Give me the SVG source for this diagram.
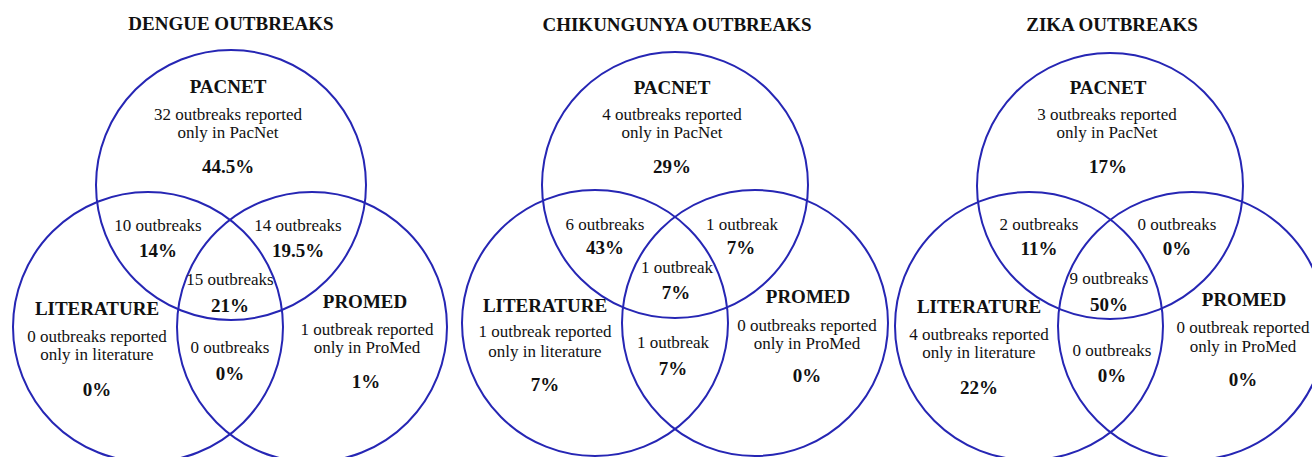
<svg xmlns="http://www.w3.org/2000/svg" width="1312" height="457" viewBox="0 0 1312 457">
<style>
text{font-family:"Liberation Serif","Times New Roman",serif;fill:#111;text-anchor:middle}
.t{font-size:19px;font-weight:bold}
.h{font-size:19px;font-weight:bold}
.n{font-size:17px}
.p{font-size:19px;font-weight:bold}
circle{fill:none;stroke:#2626b4;stroke-width:2}
</style>
<rect width="1312" height="457" fill="#fff"/>
<g id="dengue">
<text class="t" x="231" y="30">DENGUE OUTBREAKS</text>
<g id="dengue-circles">
<circle cx="231" cy="185" r="135"/>
<circle cx="148" cy="327" r="135"/>
<circle cx="312" cy="327" r="135"/>
</g>
<g id="dengue-pacnet"><text class="h" x="228" y="93">PACNET</text><text class="n" x="228" y="120">32 outbreaks reported</text><text class="n" x="228" y="138">only in PacNet</text><text class="p" x="228" y="173">44.5%</text></g>
<g id="dengue-pl"><text class="n" x="158" y="231">10 outbreaks</text><text class="p" x="158" y="257">14%</text></g>
<g id="dengue-pp"><text class="n" x="298" y="231">14 outbreaks</text><text class="p" x="298" y="257">19.5%</text></g>
<g id="dengue-all"><text class="n" x="230" y="285">15 outbreaks</text><text class="p" x="230" y="312">21%</text></g>
<g id="dengue-lit"><text class="h" x="97" y="315">LITERATURE</text><text class="n" x="97" y="342">0 outbreaks reported</text><text class="n" x="97" y="360">only in literature</text><text class="p" x="97" y="396">0%</text></g>
<g id="dengue-lp"><text class="n" x="230" y="353">0 outbreaks</text><text class="p" x="230" y="380">0%</text></g>
<g id="dengue-promed"><text class="h" x="365" y="308">PROMED</text><text class="n" x="367" y="335">1 outbreak reported</text><text class="n" x="367" y="353">only in ProMed</text><text class="p" x="366" y="388">1%</text></g>
</g>
<g id="chik">
<text class="t" x="677" y="31">CHIKUNGUNYA OUTBREAKS</text>
<g id="chik-circles">
<circle cx="675" cy="185" r="133"/>
<circle cx="595" cy="323" r="133"/>
<circle cx="755" cy="323" r="133"/>
</g>
<g id="chik-pacnet"><text class="h" x="672" y="94">PACNET</text><text class="n" x="672" y="120">4 outbreaks reported</text><text class="n" x="672" y="138">only in PacNet</text><text class="p" x="672" y="173">29%</text></g>
<g id="chik-pl"><text class="n" x="605" y="230">6 outbreaks</text><text class="p" x="605" y="254">43%</text></g>
<g id="chik-pp"><text class="n" x="742" y="230">1 outbreak</text><text class="p" x="741" y="254">7%</text></g>
<g id="chik-all"><text class="n" x="677" y="273">1 outbreak</text><text class="p" x="676" y="299">7%</text></g>
<g id="chik-lit"><text class="h" x="545" y="312">LITERATURE</text><text class="n" x="545" y="337">1 outbreak reported</text><text class="n" x="545" y="357">only in literature</text><text class="p" x="545" y="391">7%</text></g>
<g id="chik-lp"><text class="n" x="673" y="348">1 outbreak</text><text class="p" x="673" y="375">7%</text></g>
<g id="chik-promed"><text class="h" x="808" y="303">PROMED</text><text class="n" x="807" y="331">0 outbreaks reported</text><text class="n" x="807" y="349">only in ProMed</text><text class="p" x="807" y="382">0%</text></g>
</g>
<g id="zika">
<text class="t" x="1112" y="31">ZIKA OUTBREAKS</text>
<g id="zika-circles">
<circle cx="1110" cy="186" r="133"/>
<circle cx="1029" cy="326" r="134"/>
<circle cx="1192" cy="326" r="134"/>
</g>
<g id="zika-pacnet"><text class="h" x="1108" y="94">PACNET</text><text class="n" x="1107" y="120">3 outbreaks reported</text><text class="n" x="1107" y="138">only in PacNet</text><text class="p" x="1108" y="173">17%</text></g>
<g id="zika-pl"><text class="n" x="1039" y="230">2 outbreaks</text><text class="p" x="1039" y="255">11%</text></g>
<g id="zika-pp"><text class="n" x="1177" y="230">0 outbreaks</text><text class="p" x="1177" y="255">0%</text></g>
<g id="zika-all"><text class="n" x="1109" y="284">9 outbreaks</text><text class="p" x="1109" y="311">50%</text></g>
<g id="zika-lit"><text class="h" x="979" y="313">LITERATURE</text><text class="n" x="979" y="340">4 outbreaks reported</text><text class="n" x="979" y="358">only in literature</text><text class="p" x="979" y="394">22%</text></g>
<g id="zika-lp"><text class="n" x="1112" y="356">0 outbreaks</text><text class="p" x="1112" y="382">0%</text></g>
<g id="zika-promed"><text class="h" x="1244" y="306">PROMED</text><text class="n" x="1243" y="333">0 outbreak reported</text><text class="n" x="1243" y="352">only in ProMed</text><text class="p" x="1243" y="386">0%</text></g>
</g>
</svg>
